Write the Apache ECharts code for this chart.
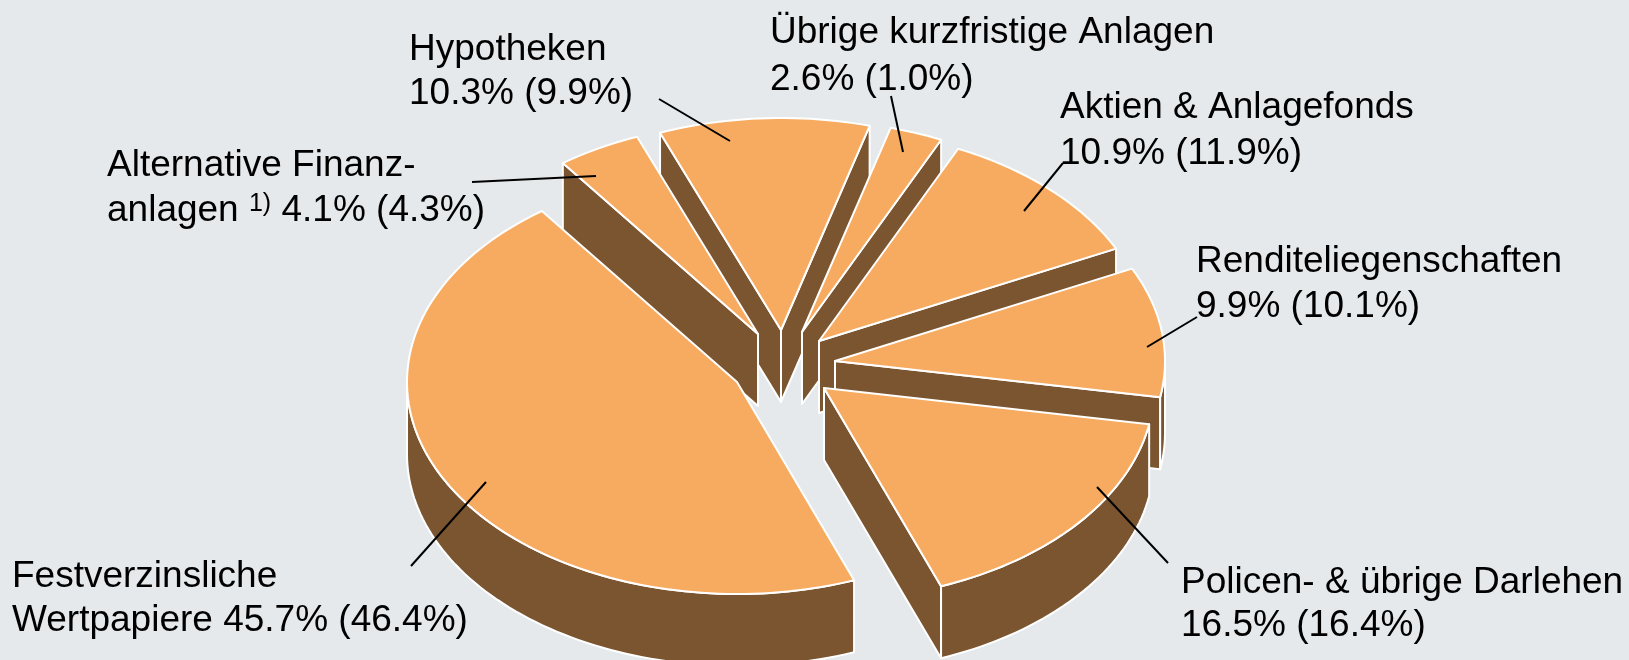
<!DOCTYPE html>
<html><head><meta charset="utf-8">
<style>html,body{margin:0;padding:0;background:#e5e9ec}#c{width:1629px;height:660px}</style>
<script src="https://cdn.jsdelivr.net/npm/echarts@6/dist/echarts.min.js"></script>
</head><body><div id="c"></div>
<script>
// --- data (clockwise from the top of the pie)
const categories = ['Hypotheken','Übrige kurzfristige Anlagen','Aktien & Anlagefonds','Renditeliegenschaften','Policen- & übrige Darlehen','Festverzinsliche Wertpapiere','Alternative Finanzanlagen'];
const sharesCurrent = [10.3, 2.6, 10.9, 9.9, 16.5, 45.7, 4.1];
const sharesPrevious = [9.9, 1.0, 11.9, 10.1, 16.4, 46.4, 4.3];
const labelFirstLines = ['Hypotheken','Übrige kurzfristige Anlagen','Aktien & Anlagefonds','Renditeliegenschaften','Policen- & übrige Darlehen','Festverzinsliche','Alternative Finanz-'];
const labelSecondPrefix = ['','','','','','Wertpapiere ','anlagen {sup|1)} '];

// --- layout and style
const PIE = {cx:783, cy:362, rx:330, ry:212, depth:72, startDeg:-21.5};
const explode = [[-2,-32],[19,-30],[36,-21],[52,-1],[41,26],[-46,20],[-25,-28]];
const drawOrder = [0,1,2,3,4,6,5];
const labelPos = [[409,50,94],[770,33,80],[1060,108,154],[1196,262,307],[1181,583,626],[12,577,621],[107,166,211]];
const leaders = [[659,99,730,141],[891,96,903,152],[1063,163,1024,211],[1197,317,1147,347],[1168,563,1097,487],[411,566,486,482],[472,182,596,176]];
const TOP='#f7ab60', WALL='#7a5530', EDGE='#ffffff';

const total = sharesCurrent.reduce((a,b)=>a+b,0);
let acc = 0;
const startShare = sharesCurrent.map(v=>{const s=acc; acc+=v; return s;});
const rows = drawOrder.map(i=>[sharesCurrent[i], startShare[i], i]);

function renderSlice(params, api){
  const value=api.value(0), before=api.value(1), idx=api.value(2);
  const ax=PIE.cx+explode[idx][0], ay=PIE.cy+explode[idx][1];
  const t0=PIE.startDeg+before/total*360, t1=t0+value/total*360;
  const pt=deg=>{const r=deg*Math.PI/180; return [ax+PIE.rx*Math.sin(r), ay-PIE.ry*Math.cos(r)];};
  const arc=(a,b)=>{const n=Math.max(1,Math.ceil((b-a)/1.5)); const out=[]; for(let k=0;k<=n;k++) out.push(pt(a+(b-a)*k/n)); return out;};
  const down=p=>[p[0],p[1]+PIE.depth];
  const poly=(points,fill)=>({type:'polygon',shape:{points},style:{fill,stroke:EDGE,lineWidth:2,lineJoin:'round'}});
  const children=[];
  const sin=d=>Math.sin(d*Math.PI/180);
  const apex=[ax,ay];
  if(sin(t0)<0){const r=pt(t0); children.push(poly([apex,r,down(r),down(apex)],WALL));}
  if(sin(t1)>0){const r=pt(t1); children.push(poly([apex,r,down(r),down(apex)],WALL));}
  const lo=Math.max(t0,90), hi=Math.min(t1,270);
  if(hi>lo){const a=arc(lo,hi); children.push(poly(a.concat(a.slice().reverse().map(down)),WALL));}
  children.push(poly([apex].concat(arc(t0,t1)),TOP));
  return {type:'group',children};
}

const graphics=[];
const textStyle={fontFamily:'"Liberation Sans",Arial,sans-serif',fontSize:37,fill:'#000'};
categories.forEach((c,i)=>{
  const [x,y1,y2]=labelPos[i];
  graphics.push({type:'text',x,y:y1,z:20,style:{...textStyle,text:labelFirstLines[i],verticalAlign:'middle'}});
  graphics.push({type:'text',x,y:y2,z:20,style:{...textStyle,verticalAlign:'middle',
    text:`${labelSecondPrefix[i]}${sharesCurrent[i].toFixed(1)}% (${sharesPrevious[i].toFixed(1)}%)`,
    rich:{sup:{fontFamily:textStyle.fontFamily,fontSize:25,verticalAlign:'top',padding:[0,0,14,0]}}}});
  const l=leaders[i];
  graphics.push({type:'line',z:21,shape:{x1:l[0],y1:l[1],x2:l[2],y2:l[3]},style:{stroke:'#000',lineWidth:2}});
});

const chart=echarts.init(document.getElementById('c'),null,{renderer:'canvas'});
chart.setOption({
  backgroundColor:'#e5e9ec',
  animation:false,
  graphic:graphics,
  series:[{type:'custom',coordinateSystem:'none',silent:true,renderItem:renderSlice,data:rows,dimensions:['share','before','index'],clip:false}]
});
</script></body></html>
